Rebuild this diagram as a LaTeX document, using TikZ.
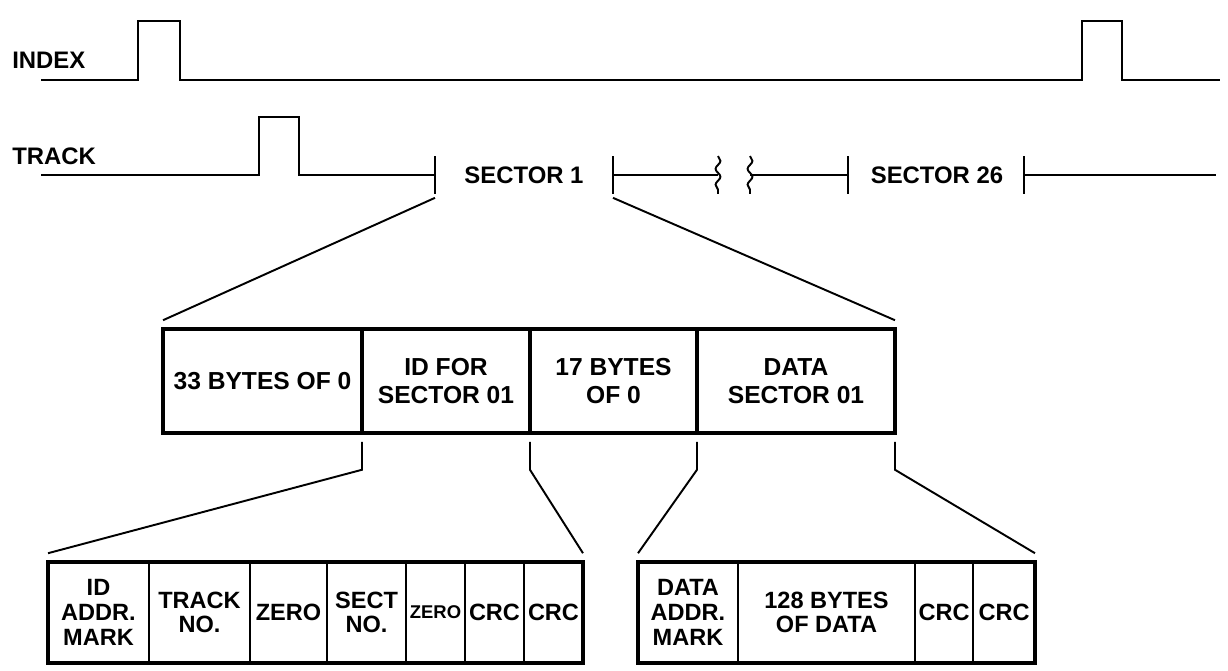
\documentclass[tikz,border=0pt]{standalone}
\usepackage{fontspec}
\setmainfont{Liberation Sans}
\usetikzlibrary{decorations.pathmorphing}

\begin{document}
\begin{tikzpicture}[x=0.02cm, y=-0.02cm,
  lbl/.style={font=\bfseries\fontsize{13.6}{16}\selectfont, inner sep=0pt},
  wave/.style={line width=1.6pt},
  fan/.style={line width=1.1pt},
  squig/.style={line width=1.1pt, decorate, decoration={snake, amplitude=1.4pt, segment length=9pt}},
  bigcell/.style={draw, line width=2.8pt, outer sep=0pt, inner sep=0pt, minimum height=2.08cm, align=center, font=\bfseries\fontsize{14}{16}\selectfont},
  cell/.style={draw, line width=1pt, outer sep=0pt, inner sep=0pt, minimum height=2.02cm, align=center, font=\bfseries\fontsize{13.4}{14}\selectfont}]
\useasboundingbox (0,0) rectangle (1228,671);

\node[lbl, anchor=west] (idx) at (12,60) {INDEX};
\node[lbl, anchor=west] (trk) at (12,156) {TRACK};
\draw[wave] (41,80) -- (138,80) -- (138,21) -- (180,21) -- (180,80) -- (1082,80) -- (1082,21) -- (1122,21) -- (1122,80) -- (1220,80);

\coordinate (t1) at (435,175);
\coordinate (t2) at (613,175);
\coordinate (t3) at (848,175);
\coordinate (t4) at (1024,175);
\coordinate (w1) at (718,175);
\coordinate (w2) at (750,175);
\node[lbl] (sec1) at (524,175) {SECTOR 1};
\node[lbl] (sec26) at (937,175) {SECTOR 26};
\draw[wave] (41,175) -- (259,175) -- (259,117) -- (299,117) -- (299,175) -- (t1);
\draw[wave] ([yshift=10.8pt]t1) -- ([yshift=-10.8pt]t1);
\draw[wave] ([yshift=10.8pt]t2) -- ([yshift=-10.8pt]t2);
\draw[wave] ([yshift=10.8pt]t3) -- ([yshift=-10.8pt]t3);
\draw[wave] ([yshift=10.8pt]t4) -- ([yshift=-10.8pt]t4);
\draw[wave] (t2) -- (w1);
\draw[wave] (w2) -- (t3);
\draw[wave] (t4) -- (1216,175);
\draw[squig] ([yshift=10.8pt]w1) -- ([yshift=-10.8pt]w1);
\draw[squig] ([yshift=10.8pt]w2) -- ([yshift=-10.8pt]w2);

\node[bigcell, minimum width=3.98cm] (s0) at (262.5,381) {33 BYTES OF 0};
\node[bigcell, minimum width=3.36cm] (s1) at (446,381) {ID FOR\\SECTOR 01};
\node[bigcell, minimum width=3.34cm] (s2) at (613.5,381) {17 BYTES\\OF 0};
\node[bigcell, minimum width=3.96cm] (s3) at (796,381) {DATA\\SECTOR 01};

\node[cell, minimum width=2.02cm] (a0) at (98.5,612.5) {ID\\ADDR.\\MARK};
\node[cell, minimum width=2.02cm] (a1) at (199.5,612.5) {TRACK\\NO.};
\node[cell, minimum width=1.54cm] (a2) at (288.5,612.5) {ZERO};
\node[cell, minimum width=1.58cm] (a3) at (366.5,612.5) {SECT\\NO.};
\node[cell, minimum width=1.18cm, font=\bfseries\fontsize{10.5}{12}\selectfont] (a4) at (435.5,612.5) {ZERO};
\node[cell, minimum width=1.18cm] (a5) at (494.5,612.5) {CRC};
\node[cell, minimum width=1.18cm] (a6) at (553.5,612.5) {CRC};
\draw[line width=2.8pt] (a0.north west) rectangle (a6.south east);

\node[cell, minimum width=2.00cm] (b0) at (688,612.5) {DATA\\ADDR.\\MARK};
\node[cell, minimum width=3.54cm] (b1) at (826.5,612.5) {128 BYTES\\OF DATA};
\node[cell, minimum width=1.16cm] (b2) at (944,612.5) {CRC};
\node[cell, minimum width=1.24cm] (b3) at (1004,612.5) {CRC};
\draw[line width=2.8pt] (b0.north west) rectangle (b3.south east);

\draw[fan] ([yshift=-13pt]t1) -- ([yshift=5pt]s0.north west);
\draw[fan] ([yshift=-13pt]t2) -- ([yshift=5pt]s3.north east);
\draw[fan] ([yshift=-5pt]s0.south east) -- ++(0,28) -- ([yshift=5pt]a0.north west);
\draw[fan] ([yshift=-5pt]s1.south east) -- ++(0,28) -- ([yshift=5pt]a6.north east);
\draw[fan] ([yshift=-5pt]s2.south east) -- ++(0,28) -- ([yshift=5pt]b0.north west);
\draw[fan] ([yshift=-5pt]s3.south east) -- ++(0,28) -- ([yshift=5pt]b3.north east);
\end{tikzpicture}
\end{document}
